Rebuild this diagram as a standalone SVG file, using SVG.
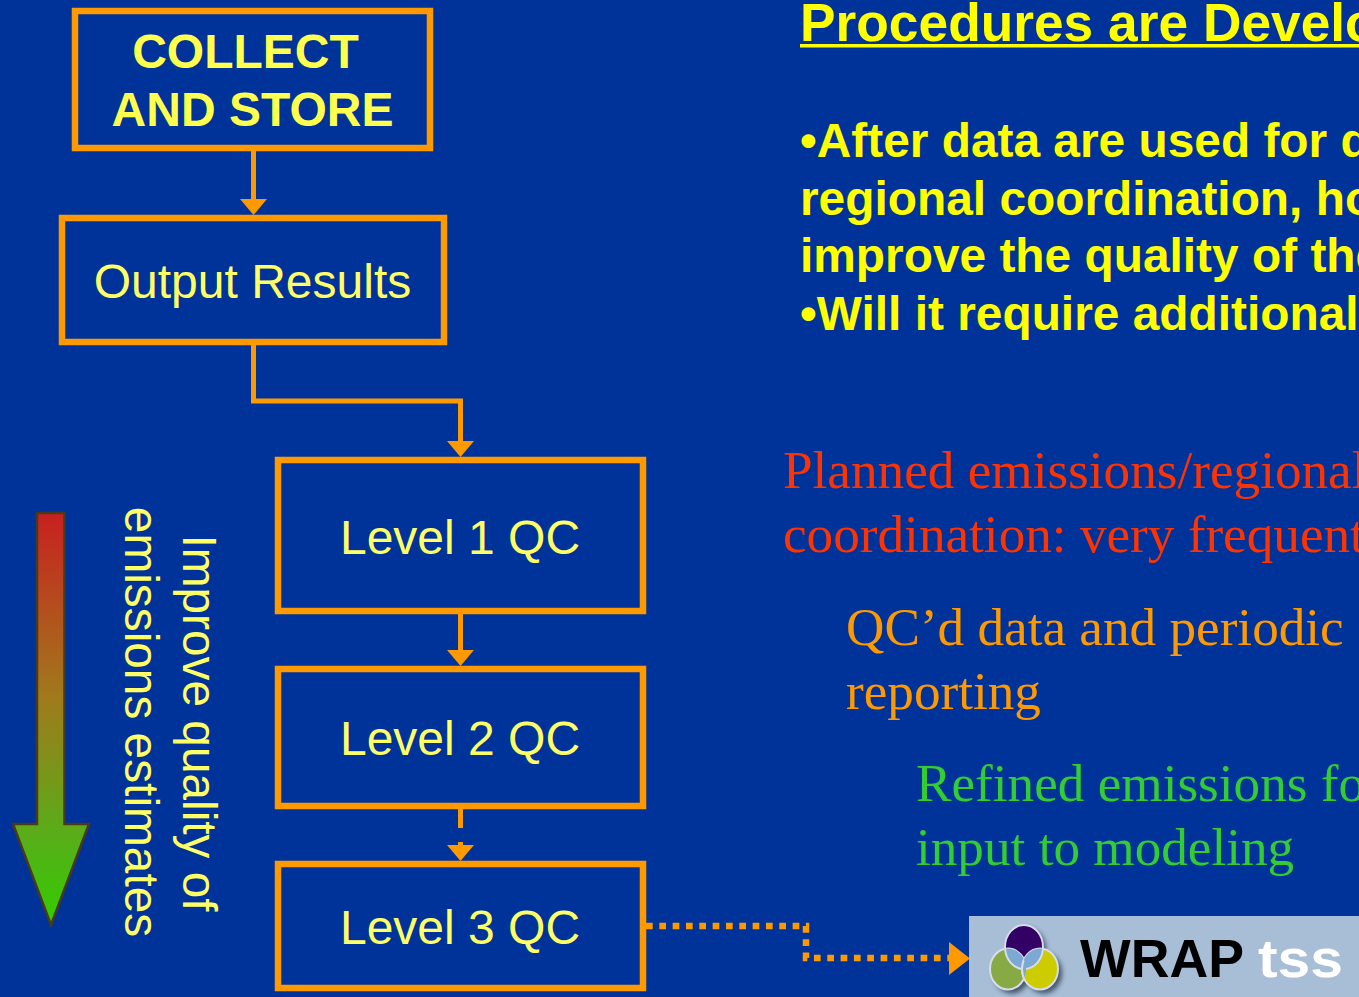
<svg xmlns="http://www.w3.org/2000/svg" width="1359" height="997" viewBox="0 0 1359 997">
<style>
.box{fill:none;stroke:#ff9900;stroke-width:6.5}
.lbl{font-family:"Liberation Sans",Arial,sans-serif;font-size:48px;fill:#ffff66;text-anchor:middle}
.b{font-weight:bold;fill:#ffff4d}
.head{font-family:"Liberation Sans",Arial,sans-serif;font-size:53.300px;font-weight:bold;fill:#ffff00}
.bt{font-family:"Liberation Sans",Arial,sans-serif;font-size:47.850px;font-weight:bold;fill:#ffff00}
.ser{font-family:"Liberation Serif","Times New Roman",serif;font-size:53.200px}
.con{fill:none;stroke:#ff9900;stroke-width:5}
.dot{fill:none;stroke:#ff9900;stroke-width:6.500;stroke-dasharray:6.700 6.630}
.ah{fill:#ff9900}
.ring{stroke:#d8dcec;stroke-width:2}
.brand{font-family:"Liberation Sans",Arial,sans-serif;font-size:53px;font-weight:bold}
</style>
<defs>
<linearGradient id="grad" x1="0" y1="0" x2="0" y2="1">
<stop offset="0" stop-color="#c82020"/>
<stop offset="0.45" stop-color="#a07a1c"/>
<stop offset="0.8" stop-color="#55b018"/>
<stop offset="1" stop-color="#33cc00"/>
</linearGradient>
<filter id="blur3" x="-30%" y="-30%" width="160%" height="160%"><feGaussianBlur stdDeviation="2.500"/></filter>
<filter id="blur1" x="-5%" y="-10%" width="110%" height="120%"><feGaussianBlur stdDeviation="0.600"/></filter>
<clipPath id="cg"><ellipse cx="1008" cy="969" rx="18" ry="20.500"/></clipPath>
<clipPath id="cy"><ellipse cx="1040" cy="969" rx="18" ry="20.500"/></clipPath>
</defs>
<rect width="1359" height="997" fill="#003399"/>
<g id="connectors">
<path class="con" d="M253.500 150V200"/>
<polygon class="ah" points="240,199 267,199 253.500,215"/>
<path class="con" d="M253.500 344V401H460.500V442"/>
<polygon class="ah" points="447,441 474,441 460.500,457"/>
<path class="con" d="M460.500 613V651"/>
<polygon class="ah" points="447,650 474,650 460.500,666"/>
<path class="con" d="M460.500 809V828M460.500 842V846"/>
<polygon class="ah" points="447,845 474,845 460.500,861"/>
<path class="dot" d="M646 926H806V958H950"/>
<polygon class="ah" points="949,942 949,975 970,958.500"/>
</g>
<g id="collect"><rect class="box" x="75" y="11" width="355" height="137"/>
<text class="lbl b" x="245.500" y="68">COLLECT</text><text class="lbl b" x="252.500" y="125.500">AND STORE</text></g>
<g id="output"><rect class="box" x="62" y="218" width="382" height="124"/>
<text class="lbl" x="252.500" y="298">Output Results</text></g>
<g id="level1"><rect class="box" x="278" y="460" width="365" height="151"/>
<text class="lbl" x="460" y="554">Level 1 QC</text></g>
<g id="level2"><rect class="box" x="278" y="669" width="365" height="137"/>
<text class="lbl" x="460" y="755">Level 2 QC</text></g>
<g id="level3"><rect class="box" x="278" y="864" width="365" height="124"/>
<text class="lbl" x="460" y="944">Level 3 QC</text></g>
<g id="quality-arrow">
<polygon points="37,513 64.500,513 64.500,824 89,824 51,925 13,824 37,824" fill="url(#grad)" stroke="#4a3a1c" stroke-width="2.500"/>
<text class="lbl" style="font-size:47.800px" transform="translate(183,723) rotate(90)">Improve quality of</text>
<text class="lbl" style="font-size:47.800px" transform="translate(125,722) rotate(90)">emissions estimates</text>
</g>
<g id="procedures">
<text class="head" x="800" y="41">Procedures are Develo</text>
<rect x="800" y="44" width="559" height="3.500" fill="#ffff00"/>
<text class="bt" x="800" y="157">•After data are used for d</text>
<text class="bt" x="800" y="215">regional coordination, ho</text>
<text class="bt" x="800" y="272">improve the quality of the</text>
<text class="bt" x="800" y="330">•Will it require additional</text>
</g>
<g id="notes">
<text class="ser" x="783" y="488" fill="#ff3300">Planned emissions/regional</text>
<text class="ser" x="783" y="552" fill="#ff3300">coordination: very frequent</text>
<text class="ser" x="846" y="645" fill="#ff9900">QC’d data and periodic</text>
<text class="ser" x="846" y="709" fill="#ff9900">reporting</text>
<text class="ser" x="916" y="801" fill="#33cc33">Refined emissions fo</text>
<text class="ser" x="916" y="865" fill="#33cc33">input to modeling</text>
</g>
<g id="wrap-logo">
<rect x="969" y="916" width="390" height="81" fill="#a8bed6"/>
<g filter="url(#blur3)" fill="#223044" opacity="0.75">
<ellipse cx="1027" cy="950" rx="19" ry="22"/>
<ellipse cx="1012" cy="973" rx="18" ry="20.500"/>
<ellipse cx="1044" cy="973" rx="18" ry="20.500"/>
</g>
<ellipse class="ring" cx="1024" cy="947" rx="19" ry="22" fill="#330066"/>
<ellipse class="ring" cx="1008" cy="969" rx="18" ry="20.500" fill="#88aa44"/>
<ellipse class="ring" cx="1040" cy="969" rx="18" ry="20.500" fill="#cccc00"/>
<ellipse class="ring" cx="1024" cy="947" rx="19" ry="22" fill="#7ca8d4" clip-path="url(#cg)"/>
<ellipse class="ring" cx="1024" cy="947" rx="19" ry="22" fill="#7ca8d4" clip-path="url(#cy)"/>
<ellipse class="ring" cx="1040" cy="969" rx="18" ry="20.500" fill="#7ca8d4" clip-path="url(#cg)"/>
<text class="brand" x="1080" y="977" fill="#000000" textLength="164" lengthAdjust="spacingAndGlyphs" filter="url(#blur1)">WRAP</text>
<text class="brand" x="1258" y="977" fill="#ffffff" textLength="85" lengthAdjust="spacingAndGlyphs" filter="url(#blur1)">tss</text>
</g>
</svg>
